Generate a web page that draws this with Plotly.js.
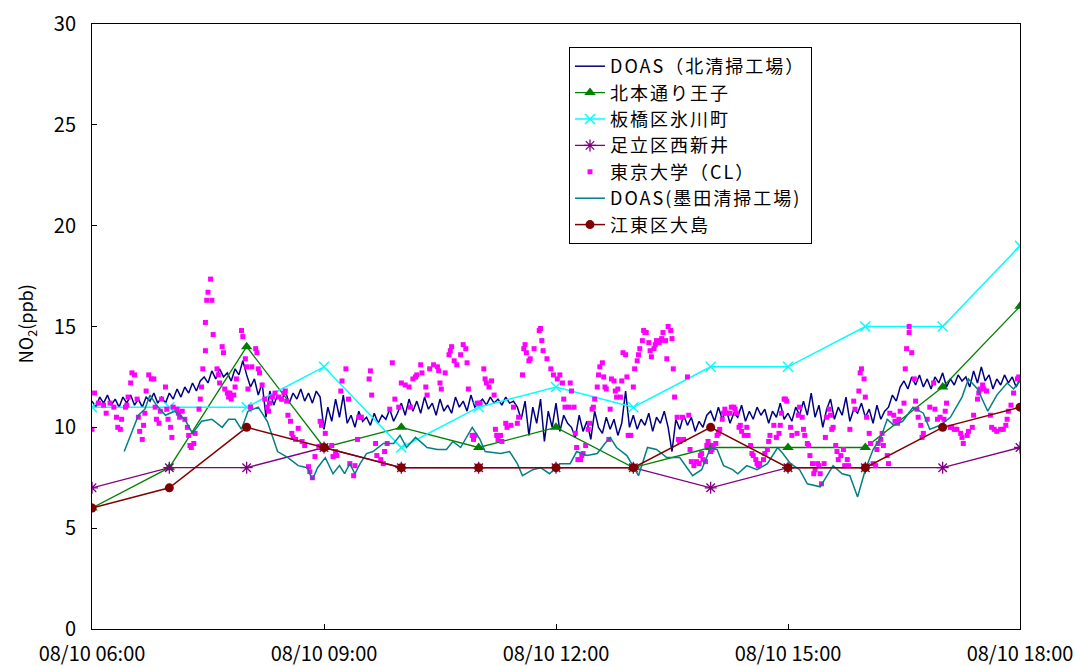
<!DOCTYPE html>
<html><head><meta charset="utf-8">
<script src="https://cdn.plot.ly/plotly-3.0.1.min.js"></script>
<style>html,body{margin:0;padding:0;background:#fff}#chart{width:1075px;height:666px}
.legendtext{letter-spacing:2px}</style>
</head><body><div id="chart"></div>
<script>
// ---- data ----
const DAY = '2009-08-10 ';
const hourLabels = ['06:00','07:00','08:00','09:00','10:00','11:00','12:00','13:00','14:00','15:00','16:00','17:00','18:00'];
const names = ['DOAS（北清掃工場）','北本通り王子','板橋区氷川町','足立区西新井','東京大学（CL）','DOAS(墨田清掃工場)','江東区大島'];
const yTitle = 'NO<sub>2</sub>(ppb)';
const kitamoto = [6,8,14,9,10,9,10,8,9,9,9,12,16];
const itabashi = [11,11,11,13,9,11,12,11,13,13,15,15,19];
const adachi   = [7,8,8,9,8,8,8,8,7,8,8,8,9];
const koto     = [6,7,10,9,8,8,8,8,10,8,8,10,11];
// DOAS 北清掃工場: 3-minute values from 06:00
const doasKita = [
11.3,11.0,11.5,11.2,11.6,11.1,11.4,11.0,11.5,11.2,11.6,11.1,11.4,11.0,11.5,11.3,11.7,11.2,11.5,
11.2,11.7,11.4,11.9,11.5,12.0,11.7,12.2,11.8,12.3,
12.5,12.2,12.8,12.4,12.9,12.5,12.7,12.3,12.9,12.6,13.3,
12.6,12.0,12.4,11.6,12.2,10.5,11.8,11.1,
11.6,11.3,11.8,11.2,11.7,11.4,11.9,11.3,11.7,11.2,11.8,11.5,
9.9,11.0,10.3,11.4,10.5,
11.6,10.2,10.6,10.0,10.8,10.3,10.5,10.1,10.7,10.2,10.6,10.4,10.9,10.3,10.7,
11.2,10.6,11.4,10.8,11.3,10.7,11.5,10.9,11.2,10.6,11.4,10.8,11.1,10.7,11.5,11.0,11.3,10.8,11.6,11.0,11.2,
11.4,11.1,11.5,11.2,11.4,11.1,11.5,11.2,11.3,11.0,
10.4,11.3,9.6,11.0,10.2,11.4,9.3,10.8,10.0,11.2,9.8,10.6,10.2,
10.0,9.5,10.6,9.8,10.3,9.4,10.8,10.0,9.7,10.5,9.9,10.4,9.6,10.2,
11.8,
10.0,10.6,9.9,10.4,10.1,10.7,9.8,10.5,10.2,10.8,10.0,8.8,10.4,9.9,10.6,10.1,10.5,9.8,10.3,10.0,10.6,
10.8,10.3,11.0,10.4,10.9,10.2,10.7,10.5,11.1,10.3,10.8,10.4,11.0,10.6,10.9,10.2,10.8,10.5,11.2,10.4,10.7,10.3,11.0,10.6,
11.3,10.6,11.7,10.5,11.1,10.0,10.9,11.4,10.4,11.0,10.6,11.5,10.3,10.9,10.7,11.2,
10.5,10.9,10.2,11.1,10.4,10.8,
11.0,11.6,11.3,12.0,
12.3,11.9,12.5,12.1,12.6,12.0,12.4,11.9,12.5,12.2,12.7,12.0,12.4,12.1,12.6,12.3,12.5,12.0,12.8,12.2,13.0,12.3,12.6,11.9,12.4,12.1,12.6,12.2,12.5,12.0,12.4
];
const doasKitaStep = 3; // minutes
// DOAS 墨田清掃工場: [minutes after 06:00, ppb]
const doasSumida = [[25,8.8],[36,10.6],[41,10.9],[45,11.6],[50,11.1],[57,10.6],[64,10.8],[72,10.4],[78,9.7],[85,10.3],[93,10.4],[101,10.0],[106,10.4],[111,10.4],[116,9.9],[121,10.8],[129,11.0],[136,10.3],[144,8.8],[152,8.5],[160,8.1],[167,8.0],[171,7.4],[175,8.0],[181,8.5],[187,7.7],[192,8.1],[196,7.7],[200,8.2],[204,7.7],[208,8.2],[213,8.7],[218,8.8],[226,9.2],[234,9.2],[239,9.6],[244,9.0],[251,9.5],[260,9.0],[268,8.9],[275,8.9],[280,9.3],[286,9.0],[295,10.0],[301,9.4],[305,8.8],[317,8.7],[324,8.8],[330,8.2],[334,7.6],[342,7.9],[348,8.0],[355,7.7],[363,8.2],[371,8.2],[376,8.8],[384,8.6],[392,8.7],[398,9.2],[402,9.5],[407,9.0],[415,8.6],[424,7.6],[431,9.0],[438,8.9],[446,8.5],[456,8.5],[466,7.6],[473,7.9],[480,9.0],[485,8.9],[490,8.1],[497,7.9],[501,7.7],[508,8.1],[516,7.9],[524,8.2],[532,9.0],[536,8.7],[542,8.2],[549,7.9],[555,7.2],[565,7.05],[575,8.1],[582,7.7],[588,7.6],[594,6.55],[600,7.9],[606,8.9],[612,9.5],[617,10.4],[622,10.1],[629,10.3],[637,11.0],[645,10.7],[650,9.9],[658,10.1],[666,10.5],[675,11.5],[680,12.4],[687,11.9],[695,10.8],[702,11.6],[710,12.2],[715,11.9],[720,12.3]];
// 東京大学(CL): [minutes after 06:00, ppb]
const tokyoCL = [[0,9.9],[2,11.7],[5,11.2],[9,11.1],[11,10.7],[14,11.2],[17,11.0],[19,10.5],[20,10.0],[22,9.9],[23,10.4],[26,11.0],[27,11.1],[28,11.5],[30,12.2],[31,12.7],[33,12.6],[35,11.4],[36,10.5],[37,9.8],[39,9.4],[40,10.1],[41,10.7],[42,11.8],[44,12.6],[46,12.4],[48,12.4],[49,11.0],[50,10.4],[52,10.2],[53,10.8],[54,11.4],[57,12.0],[58,10.9],[59,10.4],[61,10.0],[62,9.5],[63,11.0],[66,10.9],[67,10.7],[68,10.5],[70,10.8],[72,10.4],[74,10.0],[75,9.6],[76,9.1],[77,9.0],[79,9.2],[80,9.7],[83,10.9],[84,11.4],[85,12.0],[86,12.9],[88,13.8],[88,15.2],[89,16.3],[90,16.7],[92,17.35],[93,16.3],[94,14.6],[97,12.9],[98,12.6],[99,12.2],[101,14.0],[102,13.7],[103,11.9],[105,11.7],[106,11.5],[107,11.7],[108,11.4],[110,11.6],[111,12.0],[112,12.4],[116,14.8],[117,14.5],[119,13.4],[120,13.0],[121,11.9],[123,11.0],[124,13.0],[127,13.9],[128,13.7],[129,12.9],[130,12.7],[132,12.1],[134,11.4],[136,11.0],[137,10.8],[138,11.2],[140,11.5],[142,11.7],[145,11.5],[147,11.4],[149,11.7],[150,11.8],[151,11.3],[152,10.6],[154,10.3],[155,9.7],[156,9.5],[158,9.4],[160,9.95],[163,9.3],[165,9.1],[168,8.05],[169,7.8],[171,7.5],[173,8.55],[176,9.05],[177,10.3],[178,10.1],[181,9.7],[186,9.1],[187,8.55],
[189,8.8],[190,8.6],[193,11.8],[194,12.3],[197,12.9],[199,11.4],[200,8.2],[203,7.6],[204,8.1],[206,9.4],[207,10.5],[209,10.5],[215,12.4],[216,12.8],[217,11.6],[220,9.2],[221,8.6],[224,8.4],[226,8.2],[227,8.8],[229,9.2],[231,10.9],[233,13.2],[235,11.4],[238,11.0],[240,12.2],[243,12.1],[246,12.0],[247,11.0],[249,12.4],[251,12.5],[252,12.6],[255,13.1],[256,12.7],[259,12.0],[260,11.6],[262,12.9],[265,13.1],[268,13.0],[269,12.8],[270,12.2],[271,11.9],[274,12.7],[277,13.6],[278,13.8],[279,14.0],[281,13.3],[283,13.1],[286,13.6],[288,14.1],[290,13.9],[291,13.2],[292,11.9],[295,9.6],[296,9.4],[297,9.6],[299,11.2],[301,11.2],[304,12.9],[305,12.4],[306,12.2],[308,12.0],[310,12.3],[312,11.6],[313,9.9],[314,9.6],[315,9.4],[317,9.6],[318,9.3],[321,10.2],[322,10.0],[325,10.1],[327,11.0],[330,10.2],[331,10.5],[334,12.6],[335,13.9],[336,14.1],[337,13.7],[339,13.3],[340,13.4],[343,13.9],[347,14.8],[348,14.9],[349,14.3],[350,13.8],[353,13.4],[356,12.9],[358,12.6],[361,12.4],[363,12.6],[365,12.2],[366,11.4],[367,11.0],[370,11.0],
[371,12.2],[372,11.8],[374,11.0],[375,9.7],[376,9.0],[377,8.4],[379,8.4],[380,8.6],[381,8.7],[383,9.1],[385,9.9],[386,10.2],[388,10.9],[389,11.0],[390,11.4],[392,12.0],[393,12.6],[394,13.0],[396,13.2],[397,12.5],[398,12.0],[399,11.9],[401,9.4],[402,10.9],[403,12.4],[405,12.3],[406,11.8],[407,11.5],[408,11.9],[410,11.5],[411,12.3],[412,13.7],[414,13.6],[415,12.5],[416,9.6],[418,9.6],[420,12.0],[421,12.9],[423,13.3],[424,13.6],[425,13.9],[427,14.3],[428,14.8],[429,14.7],[430,14.7],[432,14.2],[433,13.8],[434,13.5],[436,13.9],[437,14.1],[438,14.3],[440,14.2],[441,14.3],[442,14.4],[443,14.7],[445,14.3],[446,13.4],[447,15.0],[449,14.8],[450,14.4],[451,12.9],[452,11.5],[454,10.5],[455,9.4],[456,9.3],[458,10.5],[459,9.4],[462,12.5],[463,10.6],[464,8.9],[465,8.3],[467,8.1],[469,8.3],[471,8.2],[472,8.6],[473,8.7],[474,8.4],[476,8.3],[477,9.1],[478,9.3],[480,8.8],[481,8.9],[482,9.1],[484,9.2],[485,9.6],[486,9.7],[487,9.9],[489,10.4],[490,10.7],[491,10.9],[493,10.7],[495,10.7],[496,11.0],[498,11.0],[499,10.9],[500,10.7],[502,10.0],[503,10.1],[504,9.8],[506,9.6],[508,10.0],[509,9.6],[511,9.1],[512,8.7],[513,8.6],[515,8.4],[516,8.2],[517,8.1],[518,8.2],[521,8.4],[522,8.7],[524,8.9],[525,9.3],[526,9.6],[529,10.1],[531,9.5],[533,9.7],[534,10.1],[535,10.7],[537,11.4],[538,11.4],[539,11.3],[542,10.0],[543,9.6],[547,9.7],[548,10.6],
[549,11.0],[551,10.5],[552,9.9],[553,9.6],[555,9.2],[556,9.1],[557,8.6],[559,8.2],[560,7.7],[561,7.9],[563,8.2],[564,8.1],[565,7.7],[566,7.2],[568,8.2],[569,9.5],[570,10.5],[572,10.9],[573,10.6],[574,9.9],[575,10.0],[577,9.1],[578,8.8],[579,8.4],[581,8.6],[583,8.9],[584,8.1],[586,8.4],[587,8.1],[588,9.9],[591,11.3],[592,10.9],[595,11.8],[596,12.7],[597,12.9],[599,12.4],[600,11.5],[601,10.5],[603,9.7],[604,9.2],[606,8.2],[608,8.1],[609,8.9],[610,9.2],[612,9.4],[613,9.7],[614,9.1],[617,8.6],[618,8.2],[619,10.7],[622,10.6],[623,10.3],[625,10.2],[626,10.4],[627,10.8],[630,11.2],[631,12.9],[632,13.9],[634,14.7],[634,15.0],[636,13.7],[638,12.4],[639,11.3],[640,10.9],[641,10.5],[643,10.1],[644,9.5],[645,9.7],[648,10.4],[650,11.0],[653,12.2],[654,10.9],[656,10.4],[658,10.5],[661,10.4],[662,10.8],[663,11.2],[666,10.0],[667,10.0],[669,9.9],[671,9.9],[674,9.7],[675,9.5],[676,9.2],[679,9.6],[680,9.8],[683,10.0],[684,10.6],[687,11.4],[688,11.7],[689,11.9],[691,12.1],[692,11.9],[694,11.8],[697,10.6],[698,10.0],[700,9.9],[702,9.8],[705,9.9],[707,9.9],[709,10.1],[710,10.4],[711,10.8],[713,11.1],[715,11.7],[718,12.4],[719,12.5]];

// ---- helpers ----
function pad(n){return (n<10?'0':'')+n;}
function stamp(min){const h=6+Math.floor(min/60), m=min%60; return DAY+pad(h)+':'+pad(m)+':00';}
const hourX = hourLabels.map(h=>DAY+h+':00');
const FONT = '"Noto Sans CJK JP", "Noto Sans", sans-serif';

const traces = [
 {name:names[0], type:'scatter', mode:'lines',
  x: doasKita.map((v,i)=>stamp(i*doasKitaStep)), y: doasKita,
  line:{color:'#000080', width:1.5}},
 {name:names[1], type:'scatter', mode:'lines+markers', x:hourX, y:kitamoto,
  line:{color:'#008000', width:1.3}, marker:{symbol:'triangle-up', size:10, color:'#008000'}},
 {name:names[2], type:'scatter', mode:'lines+markers', x:hourX, y:itabashi,
  line:{color:'#00FFFF', width:1.5}, marker:{symbol:'x-thin', size:10, color:'#00FFFF', line:{color:'#00FFFF', width:1.5}}},
 {name:names[3], type:'scatter', mode:'lines+markers', x:hourX, y:adachi,
  line:{color:'#800080', width:1.3}, marker:{symbol:'asterisk', size:10, color:'#800080', line:{color:'#800080', width:1.3}}},
 {name:names[4], type:'scatter', mode:'markers',
  x: tokyoCL.map(p=>stamp(p[0])), y: tokyoCL.map(p=>p[1]),
  marker:{symbol:'square', size:5, color:'#FF00FF'}},
 {name:names[5], type:'scatter', mode:'lines',
  x: doasSumida.map(p=>stamp(p[0])), y: doasSumida.map(p=>p[1]),
  line:{color:'#008080', width:1.5}},
 {name:names[6], type:'scatter', mode:'lines+markers', x:hourX, y:koto,
  line:{color:'#800000', width:1.5}, marker:{symbol:'circle', size:9, color:'#800000'}}
];

const layout = {
  width:1075, height:666,
  margin:{l:92, r:55, t:24, b:37},
  paper_bgcolor:'#fff', plot_bgcolor:'#fff',
  font:{family:FONT, size:20, color:'#000'},
  showlegend:true,
  legend:{x:0.514, y:0.962, xanchor:'left', yanchor:'top', bgcolor:'#fff',
          bordercolor:'#000', borderwidth:1, font:{family:FONT, size:18, color:'#000'},
          tracegroupgap:0, itemwidth:30},
  xaxis:{type:'date', range:[DAY+'06:00:00', DAY+'18:00:00'], dtick:3*3600*1000,
         tick0:DAY+'06:00:00', tickformat:'%m/%d %H:%M', ticks:'inside', ticklen:5,
         tickcolor:'#000', showline:true, linecolor:'#000', linewidth:1, mirror:true,
         showgrid:false, zeroline:false, ticklabelstandoff:7, automargin:false,
         tickfont:{family:FONT, size:20, color:'#000'}},
  yaxis:{range:[0,30], dtick:5, ticks:'inside', ticklen:5, tickcolor:'#000',
         showline:true, linecolor:'#000', linewidth:1, mirror:true,
         showgrid:false, zeroline:false, ticklabelstandoff:11, automargin:false,
         tickfont:{family:FONT, size:20, color:'#000'}},
  annotations:[{text:yTitle, textangle:-90, xref:'paper', yref:'paper',
         x:-0.071, y:0.504, xanchor:'center', yanchor:'middle', showarrow:false,
         font:{family:FONT, size:18, color:'#000'}}]
};
Plotly.newPlot('chart', traces, layout, {displayModeBar:false, staticPlot:true});
</script></body></html>
